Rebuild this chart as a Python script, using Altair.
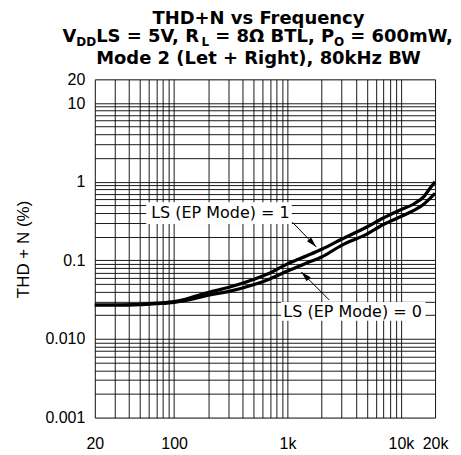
import math
import altair as alt
import pandas as pd

# ---- data ----
freq = [20, 30, 50, 70, 100, 150, 200, 300, 500, 700, 1000, 1500, 2000,
        3000, 5000, 7000, 10000, 13000, 16000, 18000, 20000]
thd_mode1 = [0.027, 0.027, 0.0275, 0.0285, 0.0298, 0.0345, 0.039, 0.045, 0.057,
             0.069, 0.09, 0.115, 0.138, 0.185, 0.265, 0.345, 0.44, 0.52, 0.65,
             0.82, 1.0]
thd_mode0 = [0.027, 0.027, 0.0272, 0.028, 0.0292, 0.0325, 0.036, 0.040, 0.049,
             0.058, 0.073, 0.093, 0.11, 0.155, 0.215, 0.285, 0.36, 0.43, 0.52,
             0.61, 0.71]
series_names = ["LS (EP Mode) = 1", "LS (EP Mode) = 0"]

x_ticks = [20, 30, 40, 50, 60, 70, 80, 90,
           100, 200, 300, 400, 500, 600, 700, 800, 900,
           1000, 2000, 3000, 4000, 5000, 6000, 7000, 8000, 9000,
           10000, 20000]
x_tick_labels = {20: "20", 100: "100", 1000: "1k", 10000: "10k", 20000: "20k"}
y_ticks = [round(m * 10 ** e, 6) for e in range(-3, 2) for m in range(1, 10)] + [20]
y_tick_labels = {0.001: "0.001", 0.01: "0.010", 0.1: "0.1", 1: "1", 10: "10", 20: "20"}

# annotation label positions (data coords) and boxes
ann_text = series_names
ann_freq = [256, 3750]
ann_thd = [0.404, 0.0223]
box_f1 = [56.8, 878]
box_f2 = [1090, 16460]
box_t1 = [0.549, 0.0296]
box_t2 = [0.289, 0.0170]
arrow_f1 = [1102, 2334]
arrow_t1 = [0.306, 0.0313]
arrow_f2 = [1794, 1324]
arrow_t2 = [0.148, 0.071]
arrow_angle = [136.2, 315.0]

# ---- tables ----
rows = []
for f, a, b in zip(freq, thd_mode1, thd_mode0):
    rows.append({"freq": f, "thd": a, "series": series_names[0]})
    rows.append({"freq": f, "thd": b, "series": series_names[1]})
curves = pd.DataFrame(rows)
boxes = pd.DataFrame({"freq": box_f1, "freq2": box_f2, "thd": box_t1, "thd2": box_t2})
labels = pd.DataFrame({"freq": ann_freq, "thd": ann_thd, "text": ann_text})
arrows = pd.DataFrame({"freq": arrow_f1, "thd": arrow_t1, "freq2": arrow_f2, "thd2": arrow_t2})


def label_expr(d):
    parts = [f"datum.value == {k} ? '{v}'" for k, v in d.items()]
    return " : ".join(parts) + " : ''"


AXIS_FONT = "Liberation Sans"
x_enc = alt.X("freq:Q",
              scale=alt.Scale(type="log", domain=[20, 20000], nice=False),
              axis=alt.Axis(values=x_ticks, labelExpr=label_expr(x_tick_labels),
                            title=None, grid=True, ticks=False, tickSize=0,
                            domain=False, labelFlush=False, labelPadding=18,
                            labelFontSize=16, labelFont=AXIS_FONT,
                            labelColor="black", labelOverlap=False,
                            gridColor="black", gridOpacity=0.9, gridWidth=1))
y_enc = alt.Y("thd:Q",
              scale=alt.Scale(type="log", domain=[0.001, 20], nice=False),
              axis=alt.Axis(values=y_ticks, labelExpr=label_expr(y_tick_labels),
                            title="THD + N (%)", grid=True, ticks=False, tickSize=0,
                            domain=False, labelFlush=False, labelPadding=10,
                            labelFontSize=16, labelFont=AXIS_FONT,
                            labelColor="black", labelOverlap=False,
                            labelBaseline="middle",
                            gridColor="black", gridOpacity=0.9, gridWidth=1,
                            titleFont=AXIS_FONT, titleFontSize=17,
                            titleFontWeight="normal", titleColor="black",
                            titleX=-71.5, titleY=170, titleAngle=270,
                            titleAlign="center", titleBaseline="middle"))

box_layer = alt.Chart(boxes).mark_rect(color="white", opacity=1).encode(
    x=x_enc, x2="freq2:Q", y=y_enc, y2="thd2:Q")

line_layer = alt.Chart(curves).mark_line(color="black", strokeWidth=3.2,
                                         interpolate="monotone").encode(
    x=x_enc, y=y_enc, detail="series:N")

rule_layer = alt.Chart(arrows).mark_rule(color="black", strokeWidth=1).encode(
    x=x_enc, y=y_enc, x2="freq2:Q", y2="thd2:Q")

ARROW_PATH = "M0,0L0.6,2.2L-0.6,2.2Z"
heads = []
for i in range(len(arrow_angle)):
    hd = pd.DataFrame({"freq": [arrow_f2[i]], "thd": [arrow_t2[i]]})
    heads.append(alt.Chart(hd).mark_point(shape=ARROW_PATH, filled=True,
                                          color="black", opacity=1, size=90,
                                          angle=arrow_angle[i]).encode(
        x=x_enc, y=y_enc))

text_layer = alt.Chart(labels).mark_text(font="DejaVu Sans", fontSize=16,
                                         color="black", align="center",
                                         baseline="middle").encode(
    x=x_enc, y=y_enc, text="text:N")

# ---- title (text marks; line 2 has subscripts) ----
TITLE_FONT = "DejaVu Sans"
W = {' ': 0.348, ',': 0.380, '0': 0.696, '5': 0.696, '6': 0.696, '8': 0.696,
     '=': 0.838, 'B': 0.762, 'D': 0.830, 'L': 0.637, 'O': 0.850, 'P': 0.734,
     'R': 0.770, 'S': 0.720, 'T': 0.682, 'V': 0.774, 'W': 1.103, 'm': 1.042,
     'Ω': 0.830}
MAIN, SUB = 18, 12
title_center = 164
title_line1 = "THD+N vs Frequency"
title_line3 = "Mode 2 (Let + Right), 80kHz BW"
line2_pieces = [("V", False), ("DD", True), ("LS = 5V, R", False), ("L", True),
                (" = 8Ω BTL, P", False), ("O", True), (" = 600mW,", False)]


def piece_width(t, sub):
    return sum(W.get(c, 0.65) for c in t) * (SUB if sub else MAIN)


total = sum(piece_width(t, s) for t, s in line2_pieces)
cur = title_center - total / 2
title_layers = []
for t, s in line2_pieces:
    stripped = t.lstrip(" ")
    lead = piece_width(t[:len(t) - len(stripped)], s)
    title_layers.append(
        alt.Chart(pd.DataFrame({"t": [stripped]})).mark_text(
            font=TITLE_FONT, fontWeight="bold", fontSize=SUB if s else MAIN,
            color="black", align="left", baseline="alphabetic").encode(
            text="t:N", x=alt.value(cur + lead), y=alt.value(-33.5 if s else -37)))
    cur += piece_width(t, s)

for txt, yy in [(title_line1, -55.5), (title_line3, -15.5)]:
    title_layers.append(
        alt.Chart(pd.DataFrame({"t": [txt]})).mark_text(
            font=TITLE_FONT, fontWeight="bold", fontSize=MAIN, color="black",
            align="center", baseline="alphabetic").encode(
            text="t:N", x=alt.value(title_center), y=alt.value(yy)))

chart = alt.layer(box_layer, line_layer, rule_layer, *heads, text_layer,
                  *title_layers).properties(
    width=341, height=339,
    autosize=alt.AutoSizeParams(type="none"),
    padding={"left": 87, "top": 71, "right": 18, "bottom": 36},
).configure_view(stroke="black", strokeWidth=2).configure(background="white")

chart.save("out.html", embed_options={"renderer": "svg", "actions": False})
